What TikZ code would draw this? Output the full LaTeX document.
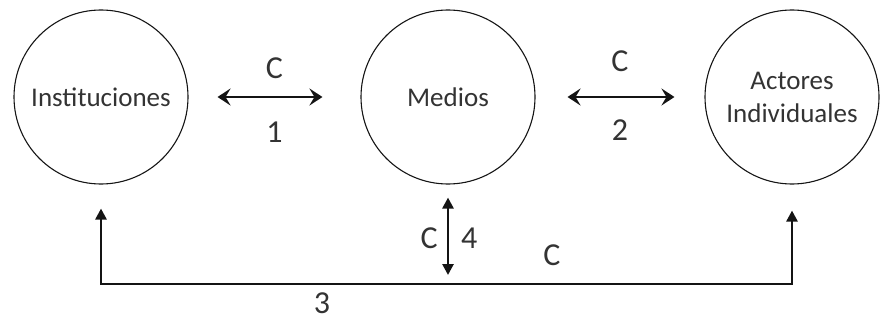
\documentclass[tikz,border=0pt]{standalone}
\usepackage{fontspec}
\setmainfont{Carlito}
\usetikzlibrary{arrows.meta,positioning}
\definecolor{diagink}{HTML}{141414}
\definecolor{diagtext}{HTML}{333333}

\begin{document}
\begin{tikzpicture}[x=1pt,y=-1pt,
    actor/.style={circle,draw=diagink,line width=1.1pt,minimum size=174pt,inner sep=0pt,
      align=center,text=diagtext,font=\fontsize{27}{33}\selectfont},
    flow/.style={diagink,line width=2.8pt,
      {Stealth[length=13pt,width=17pt,inset=5pt]}-{Stealth[length=13pt,width=17pt,inset=5pt]}},
    loop/.style={diagink,line width=2.6pt,
      {Triangle[length=11pt,width=11pt]}-{Triangle[length=11pt,width=11pt]}},
    tag/.style={text=diagtext,font=\fontsize{32}{36}\selectfont,inner sep=0pt}]
        \useasboundingbox (0,0) rectangle (880,321);

        \node[actor] (inst) at (101,97) {Instituciones};
        \node[actor] (med) at (448,97) {Medios};
        \node[actor] (act) at (792,97) {Actores\\Individuales};

        \coordinate (base) at (448,284);

        % medios con los otros dos
        \draw[flow,shorten <=29pt,shorten >=38pt] (inst) -- (med)
          node[tag,midway,above=17pt] (c1) {C}
          node[tag,midway,below=24pt] (n1) {1};
        \draw[flow,shorten <=32pt,shorten >=30pt] (med) -- (act)
          node[tag,midway,above=24pt] (c2) {C}
          node[tag,midway,below=21pt] (n2) {2};

        % linea de abajo
        \draw[loop,shorten <=24pt,shorten >=26pt] (inst) |- (base) -| (act);
        \draw[loop,shorten <=13pt,shorten >=9pt] (med) -- (base);

        \node[tag,left=10pt of med.south,yshift=-54pt] (c4) {C};
        \node[tag,right=13pt of med.south,yshift=-54pt] (n4) {4};
        \node[tag] (c3) at (552,255) {C};
        \node[tag] (n3) at (322,303) {3};
      \end{tikzpicture}
\end{document}
